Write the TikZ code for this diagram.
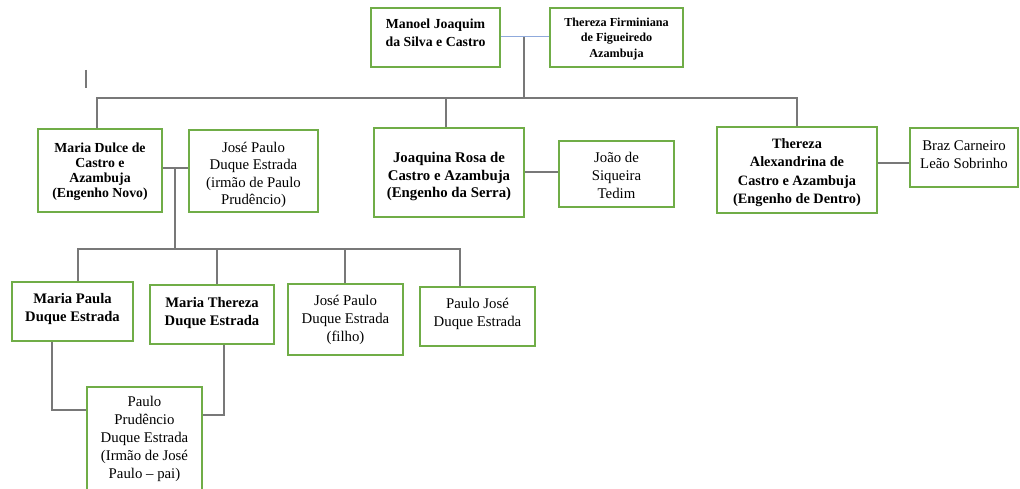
\documentclass[tikz,border=0pt]{standalone}
\usepackage{fontspec}
\setmainfont{Liberation Serif}
\definecolor{boxgreen}{RGB}{112,173,71}
\definecolor{linegray}{RGB}{120,120,120}
\definecolor{lineblue}{RGB}{143,170,220}
\newcommand\gbox[5]{\node[famebox, minimum width={#4-#2}, minimum height={#5-#3}] (#1) at ({(#2+#4)/2},{(#3+#5)/2}) {};}
\begin{document}
\begin{tikzpicture}[x=1pt,y=-1pt,
  famebox/.style={draw=boxgreen, line width=1.3pt, rectangle, inner sep=0pt},
  plaintxt/.style={align=center, inner sep=0pt, font=\fontsize{14.8}{18}\selectfont},
  boldtxt/.style={align=center, inner sep=0pt, font=\fontsize{14.6}{18}\selectfont\bfseries},
  conn/.style={draw=linegray, line width=1.1pt},
  spouse/.style={draw=lineblue, line width=1pt}]
\fill[white] (0,0) rectangle (1020,489);
\path[use as bounding box, clip] (0,0) rectangle (1020,489);

% boxes
\gbox{manoel}{371}{8}{500}{67}
\gbox{firminiana}{550}{8}{683}{67}
\gbox{dulce}{38}{129}{162}{212}
\gbox{josepai}{189}{130}{318}{212}
\gbox{joaquina}{374}{128}{524}{217}
\gbox{joao}{559}{141}{674}{207}
\gbox{alexandrina}{717}{127}{877}{213}
\gbox{braz}{910}{128}{1018}{187}
\gbox{mpaula}{12}{282}{133}{341}
\gbox{mthereza}{150}{285}{274}{344}
\gbox{jpfilho}{288}{284}{403}{355}
\gbox{pjose}{420}{287}{535}{346}
\gbox{prudencio}{87}{387}{202}{520}

% texts
\node[boldtxt, font=\fontsize{13.8}{18}\selectfont\bfseries] (tmanoel) at ([yshift=5pt]manoel.center) {Manoel Joaquim\\da Silva e Castro};
\node[boldtxt, font=\fontsize{12.2}{15.7}\selectfont\bfseries] (tfirm) at ([yshift=-1.5pt]firminiana.center) {Thereza Firminiana\\de Figueiredo\\Azambuja};
\node[boldtxt, font=\fontsize{13.8}{15}\selectfont\bfseries] (tdulce) at ([yshift=-1.5pt]dulce.center) {Maria Dulce de\\Castro e\\Azambuja\\(Engenho Novo)};
\begin{scope}
\clip (josepai.north west) rectangle (josepai.south east);
\node[plaintxt, font=\fontsize{14.8}{17.4}\selectfont] (tjosepai) at ([yshift=-4pt]josepai.center) {José Paulo\\Duque Estrada\\(irmão de Paulo\\Prudêncio)};
\end{scope}
\draw[boxgreen, line width=1.3pt] (josepai.north west) rectangle (josepai.south east);
\node[boldtxt, font=\fontsize{14.8}{17.7}\selectfont\bfseries] (tjoaquina) at ([yshift=-4pt]joaquina.center) {Joaquina Rosa de\\Castro e Azambuja\\(Engenho da Serra)};
\node[plaintxt] (tjoao) at ([yshift=-1pt]joao.center) {João de\\Siqueira\\Tedim};
\node[boldtxt, font=\fontsize{14.3}{18.3}\selectfont\bfseries] (talex) at ([yshift=-2.5pt]alexandrina.center) {Thereza\\Alexandrina de\\Castro e Azambuja\\(Engenho de Dentro)};
\node[plaintxt] (tbraz) at ([yshift=3pt]braz.center) {Braz Carneiro\\Leão Sobrinho};
\node[boldtxt] (tmpaula) at ([yshift=3pt]mpaula.center) {Maria Paula\\Duque Estrada};
\node[boldtxt] (tmthereza) at ([yshift=2pt]mthereza.center) {Maria Thereza\\Duque Estrada};
\node[plaintxt] (tjpfilho) at (jpfilho.center) {José Paulo\\Duque Estrada\\(filho)};
\node[plaintxt] (tpjose) at ([yshift=2.5pt]pjose.center) {Paulo José\\Duque Estrada};
\node[plaintxt, anchor=north] (tprud) at ([yshift=-10pt]prudencio.north) {Paulo\\Prudêncio\\Duque Estrada\\(Irmão de José\\Paulo – pai)};

% coordinates for connectors
\coordinate (couple) at (524,37);
\coordinate (busL) at (97,98);
\coordinate (busM) at (446,98);
\coordinate (busR) at (797,98);
\coordinate (m2) at (175,168);
\coordinate (bus2) at (175,249);
\coordinate (k1) at (78,249);
\coordinate (k2) at (217,249);
\coordinate (k3) at (345,249);
\coordinate (k4) at (460,249);
\coordinate (ab) at (877,163);
\coordinate (pl) at (52,410);
\coordinate (pr) at (224,415);
\coordinate (strayA) at (86,70);
\coordinate (strayB) at (86,88);

% connectors
\draw[spouse] (manoel.east |- couple) -- (firminiana.west |- couple);
\draw[conn] (couple) -- (couple |- busR);
\draw[conn] (busL |- dulce.north) -- (busL) -- (busR) -- (busR |- alexandrina.north);
\draw[conn] (busM) -- (busM |- joaquina.north);
\draw[conn] (dulce.east |- m2) -- (josepai.west |- m2);
\draw[conn] (m2) -- (bus2);
\draw[conn] (k1 |- mpaula.north) -- (k1) -- (k4) -- (k4 |- pjose.north);
\draw[conn] (k2) -- (k2 |- mthereza.north);
\draw[conn] (k3) -- (k3 |- jpfilho.north);
\draw[conn] (joaquina.east |- 0,172) -- (joao.west |- 0,172);
\draw[conn] (alexandrina.east |- ab) -- (braz.west |- ab);
\draw[conn] (pl |- mpaula.south) -- (pl) -- (prudencio.west |- pl);
\draw[conn] (pr |- mthereza.south) -- (pr) -- (prudencio.east |- pr);
\draw[conn] (strayA) -- (strayB);
\end{tikzpicture}
\end{document}
